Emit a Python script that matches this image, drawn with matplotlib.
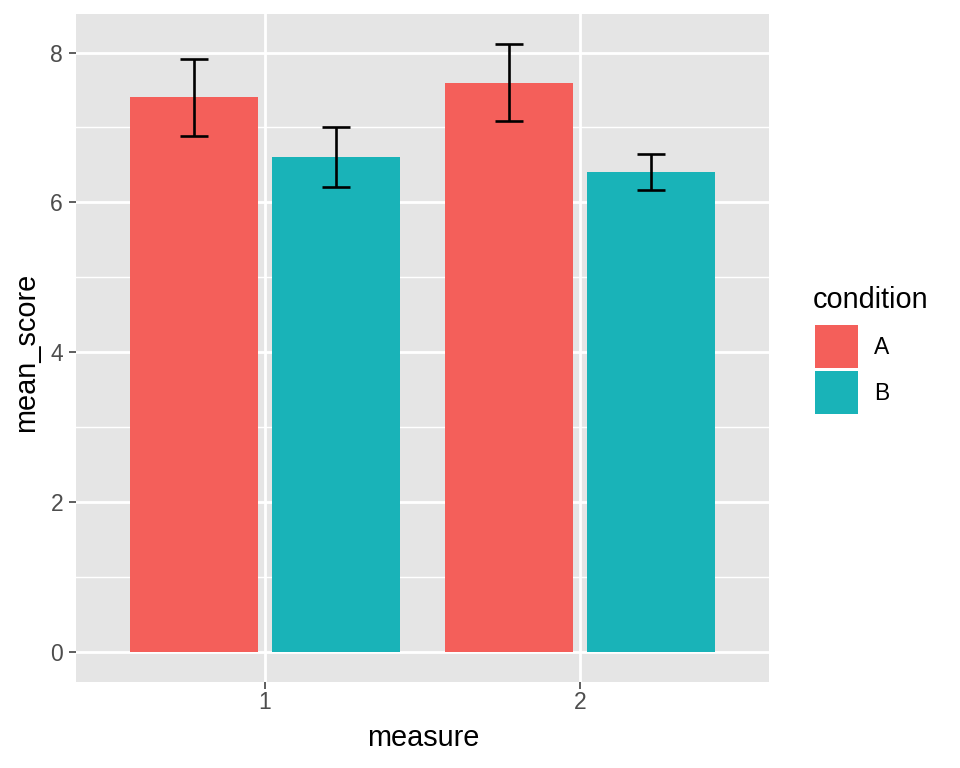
import matplotlib
matplotlib.use("Agg")
import matplotlib.pyplot as plt
from matplotlib.patches import Rectangle
import numpy as np

measures = [1, 2]
conditions = ["A", "B"]
mean_A = [7.40, 7.60]
mean_B = [6.60, 6.40]
err_A = [0.51, 0.51]
err_B = [0.40, 0.24]
colors = {"A": "#F45F5A", "B": "#19B3B8"}

plt.rcParams['font.family'] = ['Liberation Sans', 'DejaVu Sans']

W, H = 960, 768
fig = plt.figure(figsize=(W/100, H/100), dpi=100)
ax = fig.add_axes([76/W, 1-682/H, (769-76)/W, (682-14)/H])
ax.set_facecolor("#E5E5E5")
for s in ax.spines.values():
    s.set_visible(False)

ax.set_xlim(0.4, 2.6)
ax.set_ylim(-0.405, 8.515)

# grid
for y in [1, 3, 5, 7]:
    ax.axhline(y, color="white", lw=1.0, zorder=0)
for y in [0, 2, 4, 6, 8]:
    ax.axhline(y, color="white", lw=2.0, zorder=0)
for x in measures:
    ax.axvline(x, color="white", lw=2.0, zorder=0)

x = np.array(measures, dtype=float)
off = 0.225
w = 0.405
ax.bar(x - off, mean_A, width=w, color=colors["A"], zorder=2)
ax.bar(x + off, mean_B, width=w, color=colors["B"], zorder=2)
ax.errorbar(x - off, mean_A, yerr=err_A, fmt="none", ecolor="black", elinewidth=1.9,
            capsize=10, capthick=1.9, zorder=3)
ax.errorbar(x + off, mean_B, yerr=err_B, fmt="none", ecolor="black", elinewidth=1.9,
            capsize=10, capthick=1.9, zorder=3)

ax.set_xticks(measures)
ax.set_xticklabels([str(m) for m in measures])
ax.set_yticks([0, 2, 4, 6, 8])
ax.set_yticklabels(["0", "2", "4", "6", "8"])
ax.tick_params(axis="both", colors="#333333", labelsize=16.5, length=5.3, width=1.1,
               labelcolor="#4D4D4D")
ax.tick_params(axis="x", pad=1.5)
ax.tick_params(axis="y", pad=4)

# axis titles
fig.text(423/W, 1-746/H, "measure", fontsize=20.8, ha="center", va="baseline")
fig.text(34/W, 1-352/H, "mean_score", fontsize=20.8, ha="center", va="baseline",
         rotation=90, rotation_mode="anchor")

# legend
fig.text(813/W, 1-308/H, "condition", fontsize=20.8, ha="left", va="baseline")
key_tops = [325, 371]
for c, top in zip(conditions, key_tops):
    fig.add_artist(Rectangle((815/W, 1-(top+42.5)/H), 43/W, 42.5/H,
                             transform=fig.transFigure, facecolor=colors[c],
                             edgecolor="none"))
    fig.text(874/W, 1-(top+21+8.2)/H, c, fontsize=16.5, ha="left", va="baseline")

fig.savefig("out.png", dpi=100)
